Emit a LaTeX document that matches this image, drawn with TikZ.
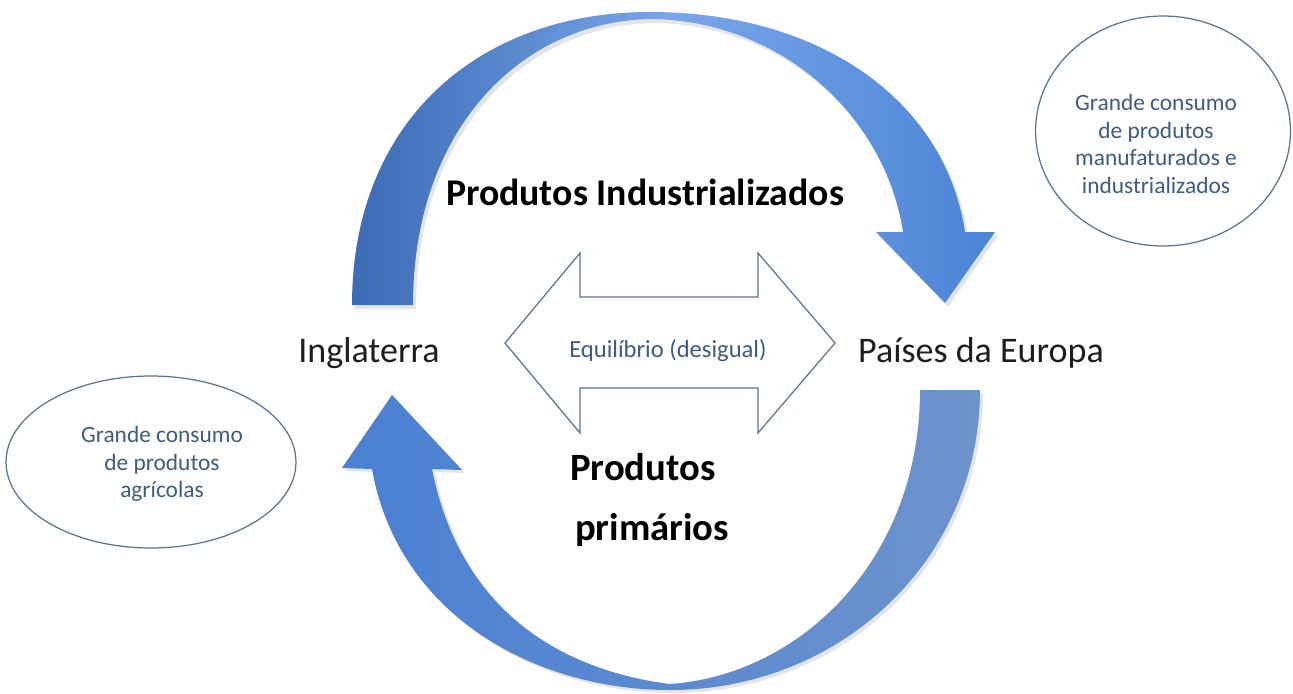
\documentclass[tikz,border=0pt]{standalone}
\usepackage{fontspec}
\setmainfont{Carlito}
\usetikzlibrary{shapes.geometric}
\definecolor{txt}{HTML}{1E1E1E}
\definecolor{soft}{HTML}{3E5C82}
\definecolor{edge}{HTML}{5A7393}
\definecolor{tdark}{HTML}{3B6BB5}
\definecolor{tlight}{HTML}{7AA6EA}
\definecolor{thead}{HTML}{4A84D5}
\definecolor{lleft}{HTML}{4A80D3}
\definecolor{lright}{HTML}{6D93CC}
\begin{document}
\begin{tikzpicture}[x=0.02cm,y=-0.02cm,
  label/.style={font=\fontsize{20.5}{24}\selectfont, text=txt, inner sep=0pt},
  title/.style={font=\bfseries\fontsize{21.5}{26}\selectfont, text=black, inner sep=0pt},
  title2/.style={font=\bfseries\fontsize{22}{35}\selectfont, text=black, inner sep=0pt, align=center},
  bubble/.style={ellipse, draw=edge, line width=0.7pt, inner sep=0pt},
  bubtext/.style={font=\fontsize{13.3}{15.6}\selectfont, text=soft, align=center, inner sep=0pt},
  eqtext/.style={font=\fontsize{14}{16}\selectfont, text=soft, inner sep=0pt},
  shadowfill/.style={fill=black, opacity=0.10},
  toparrow/.style={left color=tdark, right color=thead, middle color=tlight},
  lowarrow/.style={left color=lleft, right color=lright},
  dbl/.style={draw=edge, line width=0.7pt, fill=white}
]
\fill[white] (0,0) rectangle (1293,693);
\useasboundingbox (0,0) rectangle (1293,693);

% top curved arrow (shadow + body)
\begin{scope}[shift={(3,4)}]
\fill[shadowfill] (352,305) .. controls (352,120) and (480,12) .. (650,12)
 .. controls (820,12) and (945,100) .. (965,232)
 -- (995,232) -- (945,303) -- (876,232) -- (903,232)
 .. controls (885,115) and (780,20) .. (650,19)
 .. controls (520,22) and (413,130) .. (413,305) -- cycle;
\end{scope}
\path[toparrow] (352,305) .. controls (352,120) and (480,12) .. (650,12)
 .. controls (820,12) and (945,100) .. (965,232)
 -- (995,232) -- (945,303) -- (876,232) -- (903,232)
 .. controls (885,115) and (780,20) .. (650,19)
 .. controls (520,22) and (413,130) .. (413,305) -- cycle;

% lower curved arrow (shadow + body)
\begin{scope}[shift={(3,3)}]
\fill[shadowfill] (920,390) -- (980,390) .. controls (980,560) and (840,690) .. (670,690)
 .. controls (535,690) and (398,615) .. (372,469) -- (342,468) -- (392,395) -- (462,470) -- (432,469)
 .. controls (460,610) and (560,670) .. (670,684)
 .. controls (800,675) and (920,560) .. (920,390) -- cycle;
\end{scope}
\path[lowarrow] (920,390) -- (980,390) .. controls (980,560) and (840,690) .. (670,690)
 .. controls (535,690) and (398,615) .. (372,469) -- (342,468) -- (392,395) -- (462,470) -- (432,469)
 .. controls (460,610) and (560,670) .. (670,684)
 .. controls (800,675) and (920,560) .. (920,390) -- cycle;

% double arrow outline
\path[dbl] (505,343) -- (580,253) -- (580,297) -- (758,297) -- (758,253) -- (835,343)
 -- (758,433) -- (758,388) -- (580,388) -- (580,433) -- cycle;

% texts
\node[label, anchor=base] (ing) at (369,362) {Inglaterra};
\node[label, anchor=base] (eur) at (981,362) {Países da Europa};
\node[title, anchor=base] (pi) at (645,205) {Produtos Industrializados};
\node[title2, anchor=base] (pp1) at (643,480) {Produtos};
\node[title2, anchor=base] (pp2) at (652,540) {primários};
\node[eqtext, anchor=base] (eq) at (668,357) {Equilíbrio (desigual)};

% bubbles
\node[bubble, minimum width=5.1cm, minimum height=4.6cm] (eR) at (1163,131) {};
\node[bubtext] (tR) at (1156,144) {Grande consumo\\de produtos\\manufaturados e\\industrializados};
\node[bubble, minimum width=5.8cm, minimum height=3.44cm] (eL) at (151,462) {};
\node[bubtext] (tL) at (162,464) {Grande consumo\\de  produtos\\agrícolas};
\end{tikzpicture}
\end{document}
